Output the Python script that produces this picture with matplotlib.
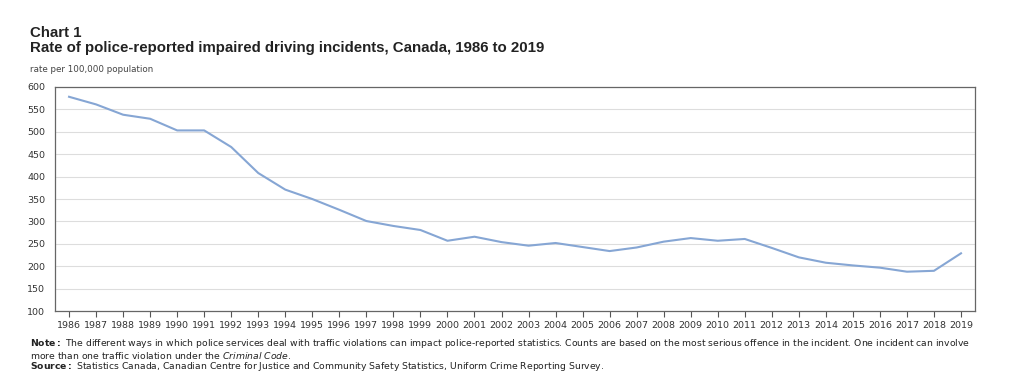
import numpy as np
import matplotlib.pyplot as plt

years = list(range(1986, 2020))
rates = [578, 561, 538, 529, 503, 503, 466, 408, 371, 350,
         326, 301, 290, 281, 257, 266, 254, 246, 252, 243,
         234, 242, 255, 263, 257, 261, 241, 220, 208, 202,
         197, 188, 190, 229]
y_ticks = list(range(100, 601, 50))

fig = plt.figure(figsize=(10.24, 3.88), dpi=100)
ax = fig.add_axes([0.0537, 0.198, 0.8985, 0.578])

ax.plot(years, rates, color='#86a6d4', linewidth=1.5)

ax.set_xlim(1985.48, 2019.52)
ax.set_ylim(100, 600)
ax.set_yticks(y_ticks)
ax.set_xticks(years)
ax.set_xticklabels([str(y) for y in years], fontsize=6.8, color='#333333')
ax.set_yticklabels([str(v) for v in y_ticks], fontsize=6.8, color='#333333')
ax.tick_params(axis='y', length=0, pad=7)
ax.tick_params(axis='x', length=4, width=0.8, color='#555555', pad=3)
ax.grid(axis='y', color='#dddddd', linewidth=0.8)
ax.set_axisbelow(True)
for s in ax.spines.values():
    s.set_color('#666666')
    s.set_linewidth(0.9)

# titulos
fig.text(0.0293, 0.905, 'Chart 1', fontsize=10.8, fontweight='bold', color='#222222',
         family='Liberation Sans')
fig.text(0.0293, 0.866, 'Rate of police-reported impaired driving incidents, Canada, 1986 to 2019',
         fontsize=10.8, fontweight='bold', color='#222222', family='Liberation Sans')
fig.text(0.0293, 0.815, 'rate per 100,000 population', fontsize=6.3, color='#444444')

# notas y fuente
note = ('$\\bf{Note:}$ The different ways in which police services deal with traffic violations can impact '
        'police-reported statistics. Counts are based on the most serious offence in the incident. '
        'One incident can involve\nmore than one traffic violation under the $\\it{Criminal\\ Code}$.')
fig.text(0.0293, 0.132, note, fontsize=6.65, color='#222222', linespacing=1.0, va='top')
fig.text(0.0293, 0.05, '$\\bf{Source:}$ Statistics Canada, Canadian Centre for Justice and Community Safety '
         'Statistics, Uniform Crime Reporting Survey.', fontsize=6.65, color='#222222')

fig.savefig('out.png', dpi=100)
